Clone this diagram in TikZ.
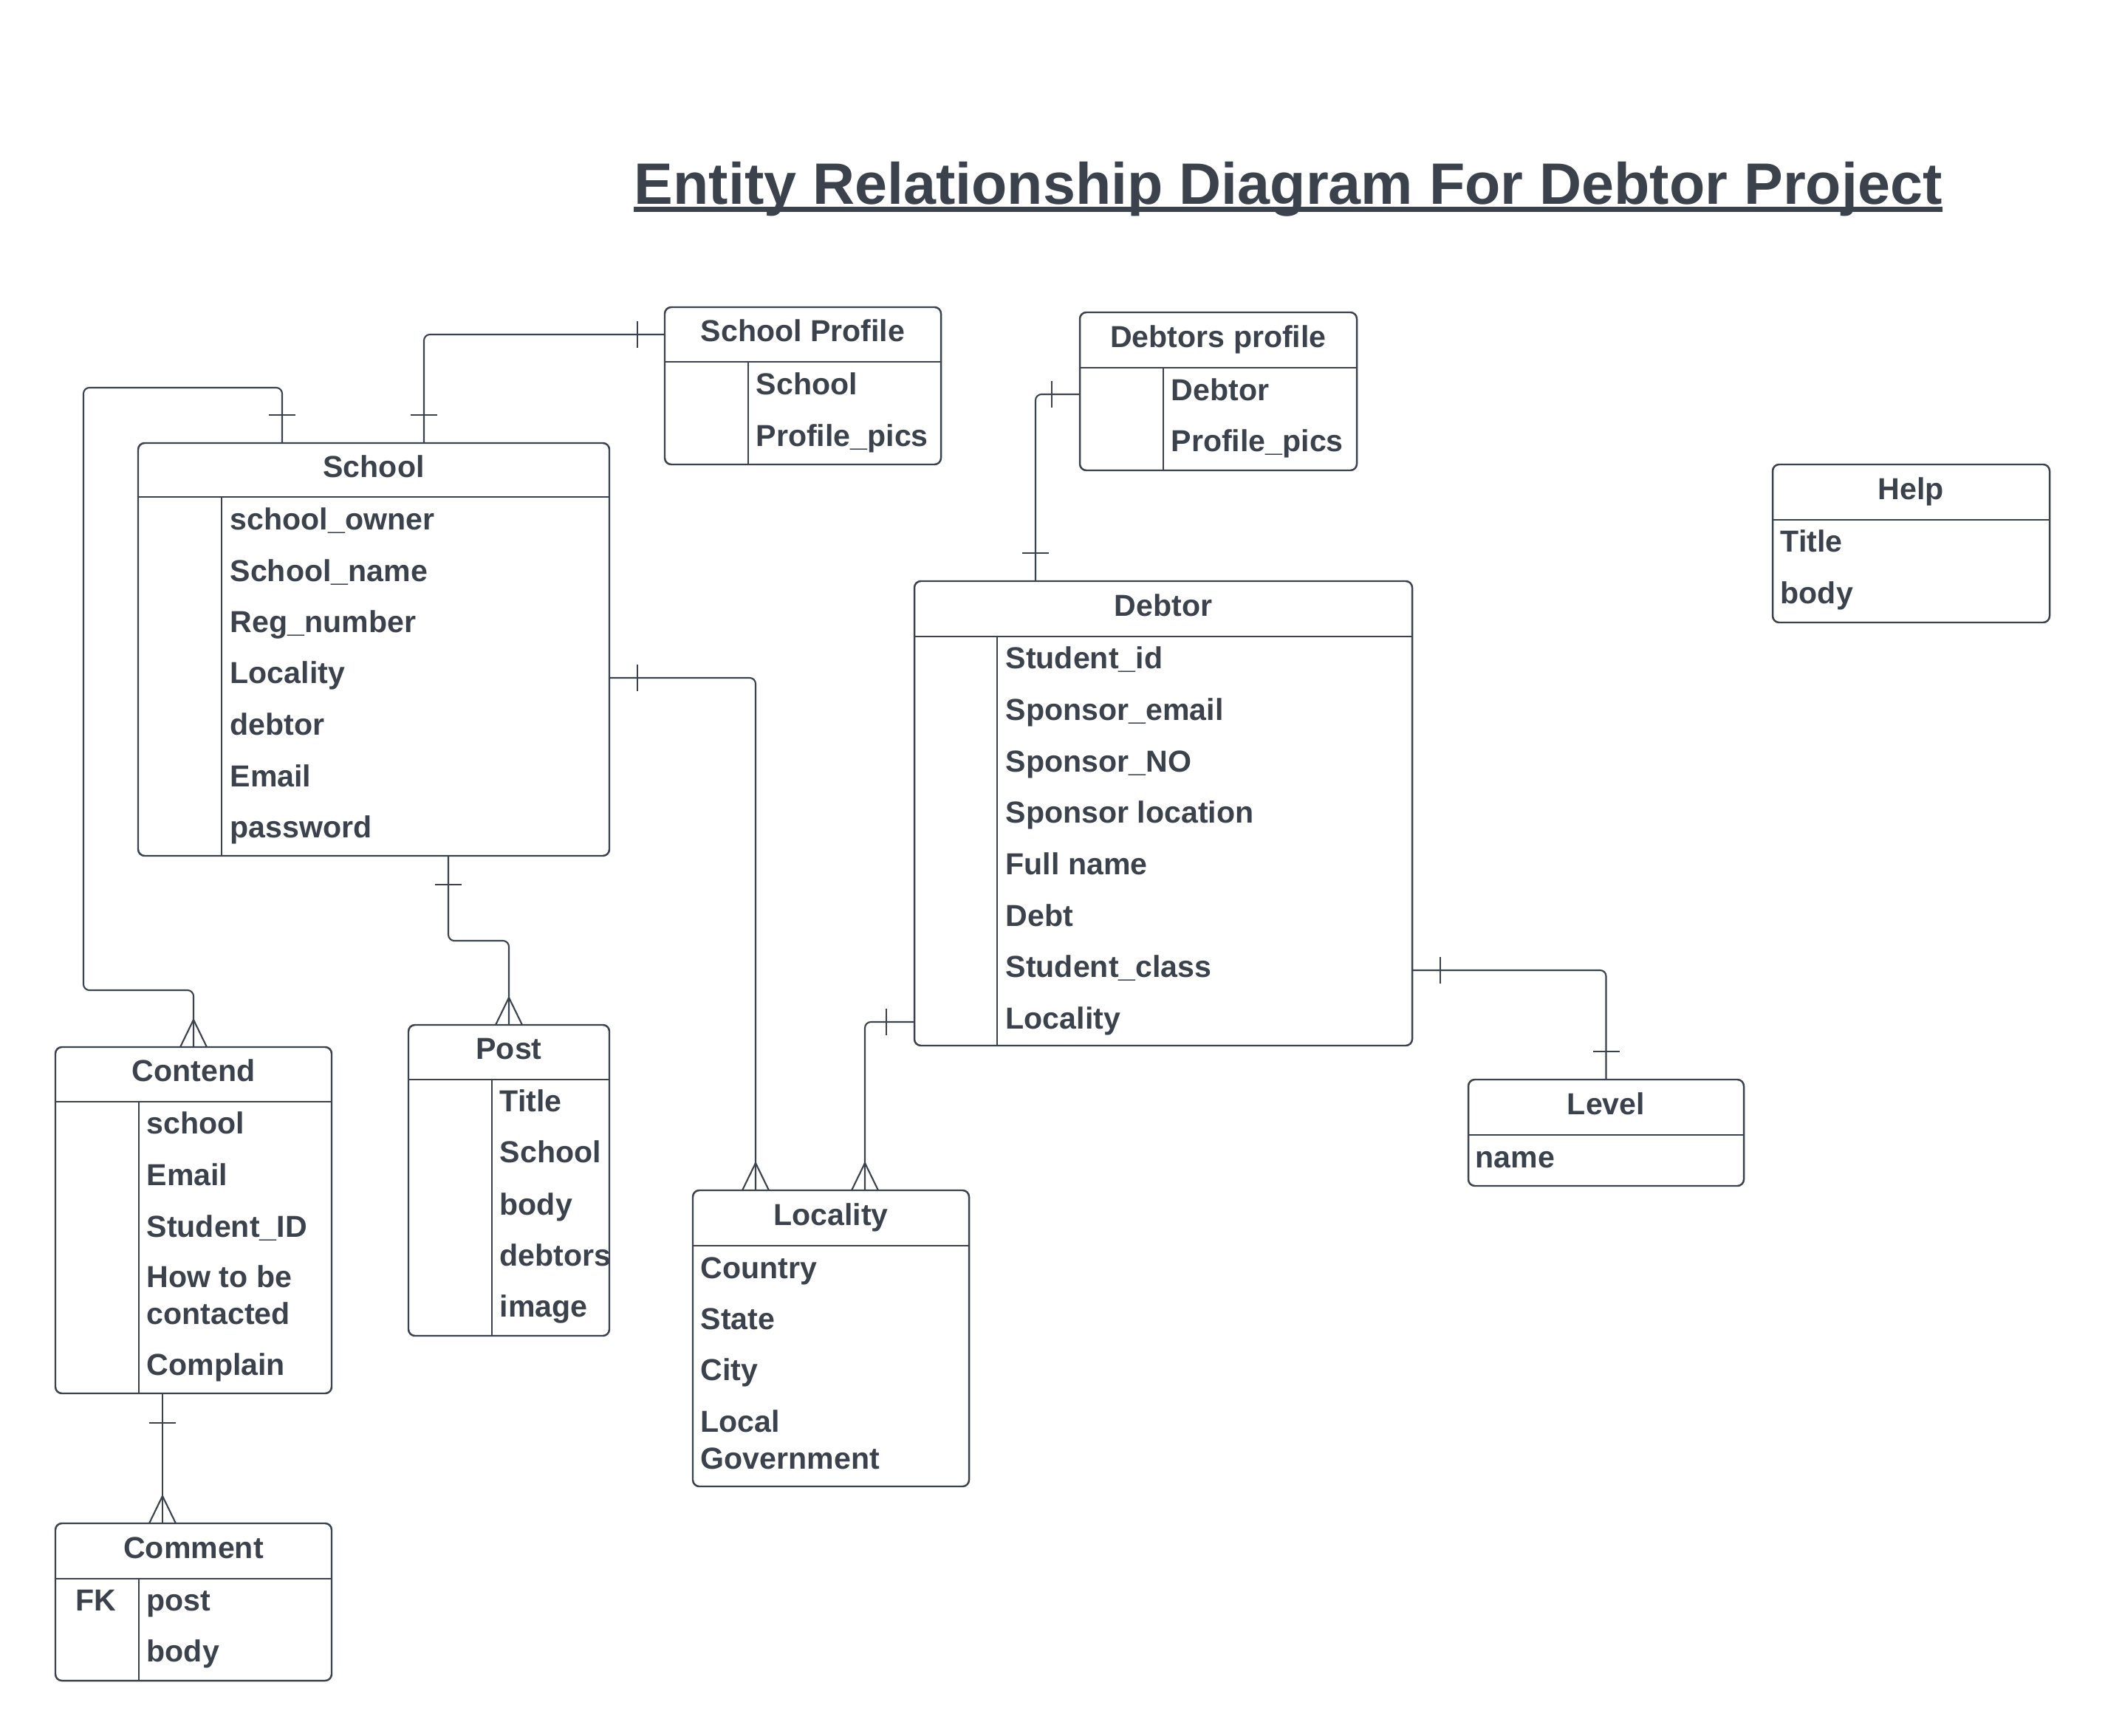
\documentclass[tikz,border=0pt]{standalone}
\usepackage{fontspec}
\setmainfont{Liberation Sans}
\definecolor{ink}{HTML}{3B424B}
\newcommand{\entfont}{\fontsize{11.7}{14.2}\selectfont\bfseries}
\newcommand{\erdtitle}{\fontsize{22.5}{27}\selectfont\bfseries}
\tikzset{
  entity/.style={draw=ink, line width=0.7pt, rounded corners=2.5pt, anchor=north west, inner sep=0pt, outer sep=0pt},
  ehead/.style={anchor=north west, inner sep=0pt, outer sep=0pt, text=ink, font=\entfont, text height=8.4pt, text depth=2.8pt},
  field/.style={anchor=west, inner sep=0pt, text=ink, font=\entfont, text height=8.4pt, text depth=0pt},
  sepline/.style={draw=ink, line width=0.6pt},
  rel/.style={draw=ink, line width=0.6pt, rounded corners=2.3pt},
  onebar/.pic={\draw[sepline] (0,-0.18) -- (0,0.18);},
  crowfoot/.pic={\draw[sepline] (-0.18,0) -- (0,0.37) -- (0.18,0);}
}

\begin{document}
\begin{tikzpicture}
\useasboundingbox (0,0) rectangle (28.5,-23.51);
\fill[white] (0,0) rectangle (28.5,-23.51);
\node[anchor=base west, inner sep=0pt, text=ink, font=\erdtitle] (title) at (8.58,-2.77) {Entity Relationship Diagram For Debtor Project};
\draw[ink, line width=2pt] ([yshift=-0.065cm]title.base west) -- ([yshift=-0.065cm]title.base east);

% School
\node[entity, minimum width=6.38cm, minimum height=5.59cm] (sch) at (1.87,-6.00) {};
\node[ehead, minimum width=6.38cm, minimum height=0.73cm] (sch-h) at (sch.north west) {School};
\draw[sepline] (sch-h.south west) -- (sch-h.south east);
\draw[sepline] ([xshift=1.13cm]sch-h.south west) -- ([xshift=1.13cm]sch.south west);
\node[field] (sch-1) at (3.11,-7.03) {school\_owner};
\node[field] (sch-2) at (3.11,-7.725) {School\_name};
\node[field] (sch-3) at (3.11,-8.42) {Reg\_number};
\node[field] (sch-4) at (3.11,-9.11) {Locality};
\node[field] (sch-5) at (3.11,-9.81) {debtor};
\node[field] (sch-6) at (3.11,-10.51) {Email};
\node[field] (sch-7) at (3.11,-11.20) {password};

% School Profile
\node[entity, minimum width=3.74cm, minimum height=2.13cm] (sprof) at (9.00,-4.16) {};
\node[ehead, minimum width=3.74cm, minimum height=0.74cm] (sprof-h) at (sprof.north west) {School Profile};
\draw[sepline] (sprof-h.south west) -- (sprof-h.south east);
\draw[sepline] ([xshift=1.13cm]sprof-h.south west) -- ([xshift=1.13cm]sprof.south west);
\node[field] (sprof-1) at (10.23,-5.20) {School};
\node[field] (sprof-2) at (10.23,-5.90) {Profile\_pics};

% Debtors profile
\node[entity, minimum width=3.75cm, minimum height=2.14cm] (dprof) at (14.62,-4.23) {};
\node[ehead, minimum width=3.75cm, minimum height=0.75cm] (dprof-h) at (dprof.north west) {Debtors profile};
\draw[sepline] (dprof-h.south west) -- (dprof-h.south east);
\draw[sepline] ([xshift=1.13cm]dprof-h.south west) -- ([xshift=1.13cm]dprof.south west);
\node[field] (dprof-1) at (15.85,-5.275) {Debtor};
\node[field] (dprof-2) at (15.85,-5.97) {Profile\_pics};

% Debtor
\node[entity, minimum width=6.74cm, minimum height=6.29cm] (debt) at (12.38,-7.87) {};
\node[ehead, minimum width=6.74cm, minimum height=0.75cm] (debt-h) at (debt.north west) {Debtor};
\draw[sepline] (debt-h.south west) -- (debt-h.south east);
\draw[sepline] ([xshift=1.12cm]debt-h.south west) -- ([xshift=1.12cm]debt.south west);
\node[field] (debt-1) at (13.61,-8.91) {Student\_id};
\node[field] (debt-2) at (13.61,-9.61) {Sponsor\_email};
\node[field] (debt-3) at (13.61,-10.31) {Sponsor\_NO};
\node[field] (debt-4) at (13.61,-11.00) {Sponsor location};
\node[field] (debt-5) at (13.61,-11.70) {Full name};
\node[field] (debt-6) at (13.61,-12.40) {Debt};
\node[field] (debt-7) at (13.61,-13.09) {Student\_class};
\node[field] (debt-8) at (13.61,-13.79) {Locality};

% Help
\node[entity, minimum width=3.75cm, minimum height=2.14cm] (help) at (24.00,-6.29) {};
\node[ehead, minimum width=3.75cm, minimum height=0.75cm] (help-h) at (help.north west) {Help};
\draw[sepline] (help-h.south west) -- (help-h.south east);
\node[field] (help-1) at (24.10,-7.33) {Title};
\node[field] (help-2) at (24.10,-8.03) {body};

% Level
\node[entity, minimum width=3.73cm, minimum height=1.44cm] (lev) at (19.88,-14.62) {};
\node[ehead, minimum width=3.73cm, minimum height=0.75cm] (lev-h) at (lev.north west) {Level};
\draw[sepline] (lev-h.south west) -- (lev-h.south east);
\node[field] (lev-1) at (19.97,-15.67) {name};

% Locality
\node[entity, minimum width=3.74cm, minimum height=4.01cm] (loc) at (9.38,-16.12) {};
\node[ehead, minimum width=3.74cm, minimum height=0.75cm] (loc-h) at (loc.north west) {Locality};
\draw[sepline] (loc-h.south west) -- (loc-h.south east);
\node[field] (loc-1) at (9.48,-17.17) {Country};
\node[field] (loc-2) at (9.48,-17.86) {State};
\node[field] (loc-3) at (9.48,-18.55) {City};
\node[field, align=left] (loc-4) at (9.48,-19.745) {Local\\Government};

% Contend
\node[entity, minimum width=3.74cm, minimum height=4.69cm] (cont) at (0.75,-14.18) {};
\node[ehead, minimum width=3.74cm, minimum height=0.74cm] (cont-h) at (cont.north west) {Contend};
\draw[sepline] (cont-h.south west) -- (cont-h.south east);
\draw[sepline] ([xshift=1.13cm]cont-h.south west) -- ([xshift=1.13cm]cont.south west);
\node[field] (cont-1) at (1.98,-15.21) {school};
\node[field] (cont-2) at (1.98,-15.91) {Email};
\node[field] (cont-3) at (1.98,-16.61) {Student\_ID};
\node[field, align=left] (cont-4) at (1.98,-17.79) {How to be\\contacted};
\node[field] (cont-5) at (1.98,-18.48) {Complain};

% Post
\node[entity, minimum width=2.72cm, minimum height=4.21cm] (post) at (5.53,-13.88) {};
\node[ehead, minimum width=2.72cm, minimum height=0.74cm] (post-h) at (post.north west) {Post};
\draw[sepline] (post-h.south west) -- (post-h.south east);
\draw[sepline] ([xshift=1.13cm]post-h.south west) -- ([xshift=1.13cm]post.south west);
\node[field] (post-1) at (6.76,-14.91) {Title};
\node[field] (post-2) at (6.76,-15.60) {School};
\node[field] (post-3) at (6.76,-16.31) {body};
\node[field] (post-4) at (6.76,-17.00) {debtors};
\node[field] (post-5) at (6.76,-17.69) {image};

% Comment
\node[entity, minimum width=3.74cm, minimum height=2.13cm] (comm) at (0.75,-20.63) {};
\node[ehead, minimum width=3.74cm, minimum height=0.75cm] (comm-h) at (comm.north west) {Comment};
\draw[sepline] (comm-h.south west) -- (comm-h.south east);
\draw[sepline] ([xshift=1.13cm]comm-h.south west) -- ([xshift=1.13cm]comm.south west);
\node[field, anchor=center] (comm-k) at (1.30,-21.67) {FK};
\node[field] (comm-1) at (1.98,-21.67) {post};
\node[field] (comm-2) at (1.98,-22.36) {body};

% relationships
\coordinate (sch-t1) at ([xshift=3.87cm]sch.north west);
\coordinate (sch-t2) at ([xshift=1.95cm]sch.north west);
\coordinate (sch-r) at ([yshift=-3.18cm]sch.north east);
\coordinate (sch-b) at ([xshift=4.20cm]sch.south west);
\coordinate (dprof-l) at ([yshift=-1.11cm]dprof.north west);
\coordinate (debt-t) at ([xshift=1.64cm]debt.north west);
\coordinate (debt-l) at ([yshift=-5.97cm]debt.north west);
\coordinate (debt-r) at ([yshift=-5.27cm]debt.north east);
\coordinate (loc-t1) at ([xshift=0.85cm]loc.north west);
\coordinate (loc-t2) at ([xshift=2.33cm]loc.north west);
\coordinate (cont-b) at ([xshift=1.45cm]cont.south west);
\coordinate (comm-t) at ([xshift=1.45cm]comm.north west);

\draw[rel] (sprof-h.west) -| (sch-t1);
\draw[rel] (sch-t2) -- ++(0,0.75) -| (1.13,-13.41) -| (cont.north);
\draw[rel] (sch-r) -| (loc-t1);
\draw[rel] (sch-b) -- ++(0,-1.15) -| (post.north);
\draw[rel] (dprof-l) -| (debt-t);
\draw[rel] (debt-l) -| (loc-t2);
\draw[rel] (debt-r) -| (lev.north);
\draw[rel] (cont-b) -- (comm-t);

\pic at ([xshift=-0.37cm]sprof-h.west) {onebar};
\pic[rotate=90] at ([yshift=0.38cm]sch-t1) {onebar};
\pic[rotate=90] at ([yshift=0.38cm]sch-t2) {onebar};
\pic at ([xshift=0.38cm]sch-r) {onebar};
\pic[rotate=90] at ([yshift=-0.39cm]sch-b) {onebar};
\pic at ([xshift=-0.38cm]dprof-l) {onebar};
\pic[rotate=90] at ([yshift=0.38cm]debt-t) {onebar};
\pic at ([xshift=-0.38cm]debt-l) {onebar};
\pic at ([xshift=0.38cm]debt-r) {onebar};
\pic[rotate=90] at ([yshift=0.38cm]lev.north) {onebar};
\pic[rotate=90] at ([yshift=-0.40cm]cont-b) {onebar};
\pic at (cont.north) {crowfoot};
\pic at (post.north) {crowfoot};
\pic at (loc-t1) {crowfoot};
\pic at (loc-t2) {crowfoot};
\pic at (comm-t) {crowfoot};
\end{tikzpicture}
\end{document}
